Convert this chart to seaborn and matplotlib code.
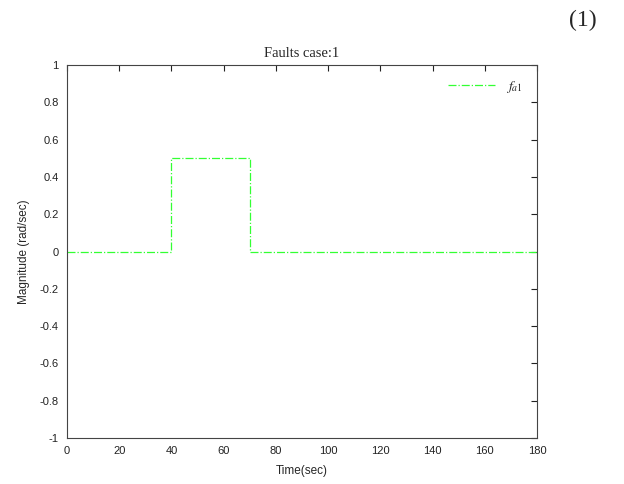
import matplotlib
matplotlib.use("Agg")
import matplotlib.pyplot as plt
import numpy as np
import pandas as pd
import seaborn as sns

# fault signal: time breakpoints and magnitude
time_sec = [0, 40, 40, 70, 70, 180]
magnitude = [0, 0, 0.5, 0.5, 0, 0]
series_label = r'$f_{a1}$'

x_ticks = [0, 20, 40, 60, 80, 100, 120, 140, 160, 180]
y_ticks = [-1, -0.8, -0.6, -0.4, -0.2, 0, 0.2, 0.4, 0.6, 0.8, 1]
y_ticklabels = ['-1', '-0.8', '-0.6', '-0.4', '-0.2', '0', '0.2', '0.4', '0.6', '0.8', '1']

df = pd.DataFrame({'Time': time_sec, 'Magnitude': magnitude})

sns.set_style('white')
plt.rcParams['font.family'] = ['Liberation Sans', 'DejaVu Sans']
plt.rcParams['mathtext.fontset'] = 'stix'

fig = plt.figure(figsize=(6.24, 4.84), dpi=100)
ax = fig.add_axes([67 / 624, 1 - 438 / 484, (537 - 67) / 624, (438 - 65) / 484])

# estimator=None keeps the repeated time points (vertical edges of the step)
sns.lineplot(data=df, x='Time', y='Magnitude', ax=ax, sort=False, estimator=None,
             color='#33ff33', linestyle='-.', linewidth=0.9, label=series_label)

ax.set_xlim(0, 180)
ax.set_ylim(-1, 1)
ax.set_xticks(x_ticks)
ax.set_yticks(y_ticks)
ax.set_yticklabels(y_ticklabels)
ax.tick_params(direction='in', top=True, right=True, length=4, width=0.8,
               labelsize=8, colors='#222222', pad=6)
for s in ax.spines.values():
    s.set_color('#444444')
    s.set_linewidth(0.8)

ax.set_xlabel('Time(sec)', fontsize=8.5, labelpad=6)
ax.set_ylabel('Magnitude (rad/sec)', fontsize=8.5, labelpad=7)
ax.set_title('Faults case:1', fontsize=10.5, family='Liberation Serif', pad=6)

leg = ax.legend(loc='upper right', frameon=False, fontsize=10, handlelength=3.4,
                borderaxespad=0.6)

fig.text(583 / 624, 1 - 20 / 484, '(1)', fontsize=17, family='Liberation Serif',
         ha='center', va='center')

fig.savefig('out.png', dpi=100)
